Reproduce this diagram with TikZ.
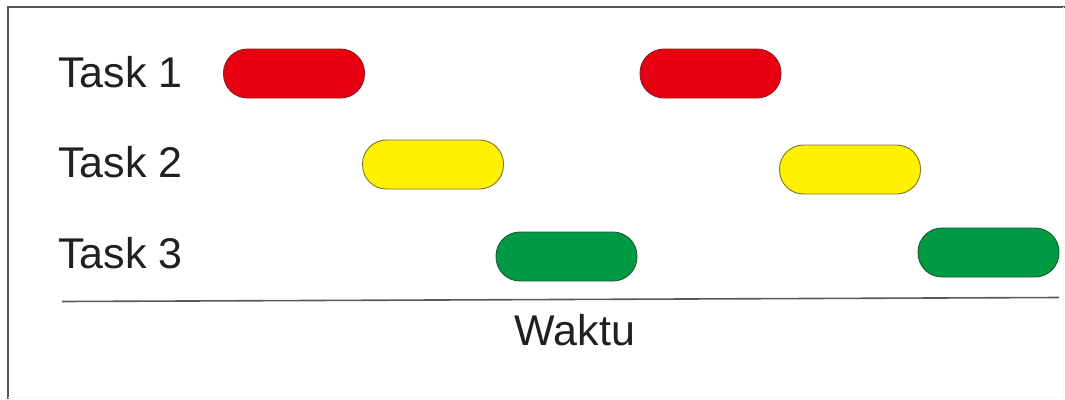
\documentclass[tikz,border=0pt]{standalone}
\usepackage{fontspec}
\setmainfont{Liberation Sans}
\usepackage{xcolor}
\definecolor{ink}        {HTML}{231F20}
\definecolor{frameLine}  {HTML}{555555}
\definecolor{barRed}     {HTML}{E60012}
\definecolor{barRedLine} {HTML}{8E1B22}
\definecolor{barYel}     {HTML}{FFF100}
\definecolor{barYelLine} {HTML}{7D7424}
\definecolor{barGrn}     {HTML}{009944}
\definecolor{barGrnLine} {HTML}{1F5A33}
\usetikzlibrary{positioning}
\tikzset{
    slot/.style={rectangle, rounded corners=24pt, minimum width=141pt,
                 minimum height=49pt, inner sep=0pt, line width=0.9pt},
    redslot/.style={slot, draw=barRedLine, fill=barRed},
    yelslot/.style={slot, draw=barYelLine, fill=barYel},
    grnslot/.style={slot, draw=barGrnLine, fill=barGrn},
    tasklabel/.style={anchor=base west, inner sep=0pt, text=ink,
                      font=\fontsize{43}{50}\selectfont},
    axis/.style={-, line width=1.6pt, gray!70!black},
}
\begin{document}
\begin{tikzpicture}[x=1pt, y=-1pt]
    \useasboundingbox (0,0) rectangle (1065,399);
    % frame
    \draw[frameLine, line width=1.2pt] (8,399) -- (8,7) -- (1065,7);
    \draw[gray!7, line width=1pt] (1063,7) -- (1063,397) -- (8,397);
    % row labels
    \node[tasklabel] (l1) at (58,87)  {Task 1};
    \node[tasklabel] (l2) at (58,177) {Task 2};
    \node[tasklabel] (l3) at (58,268) {Task 3};
    % time slots
    \node[redslot] (r1) at (294,73.5)  {};
    \node[redslot] (r2) at (710.5,73.5) {};
    \node[yelslot] (y1) at (433,164.5) {};
    \node[yelslot] (y2) at (850,169.5) {};
    \node[grnslot] (g1) at (566.5,256.5) {};
    \node[grnslot] (g2) at (988.5,252.5) {};
    % time axis
    \coordinate (ax0) at (62,301.5);
    \coordinate (ax1) at (1059,297.5);
    \draw[axis] (ax0) -- (ax1);
    \node[tasklabel, anchor=base] (wk) at (575,345) {Waktu};
\end{tikzpicture}
\end{document}
